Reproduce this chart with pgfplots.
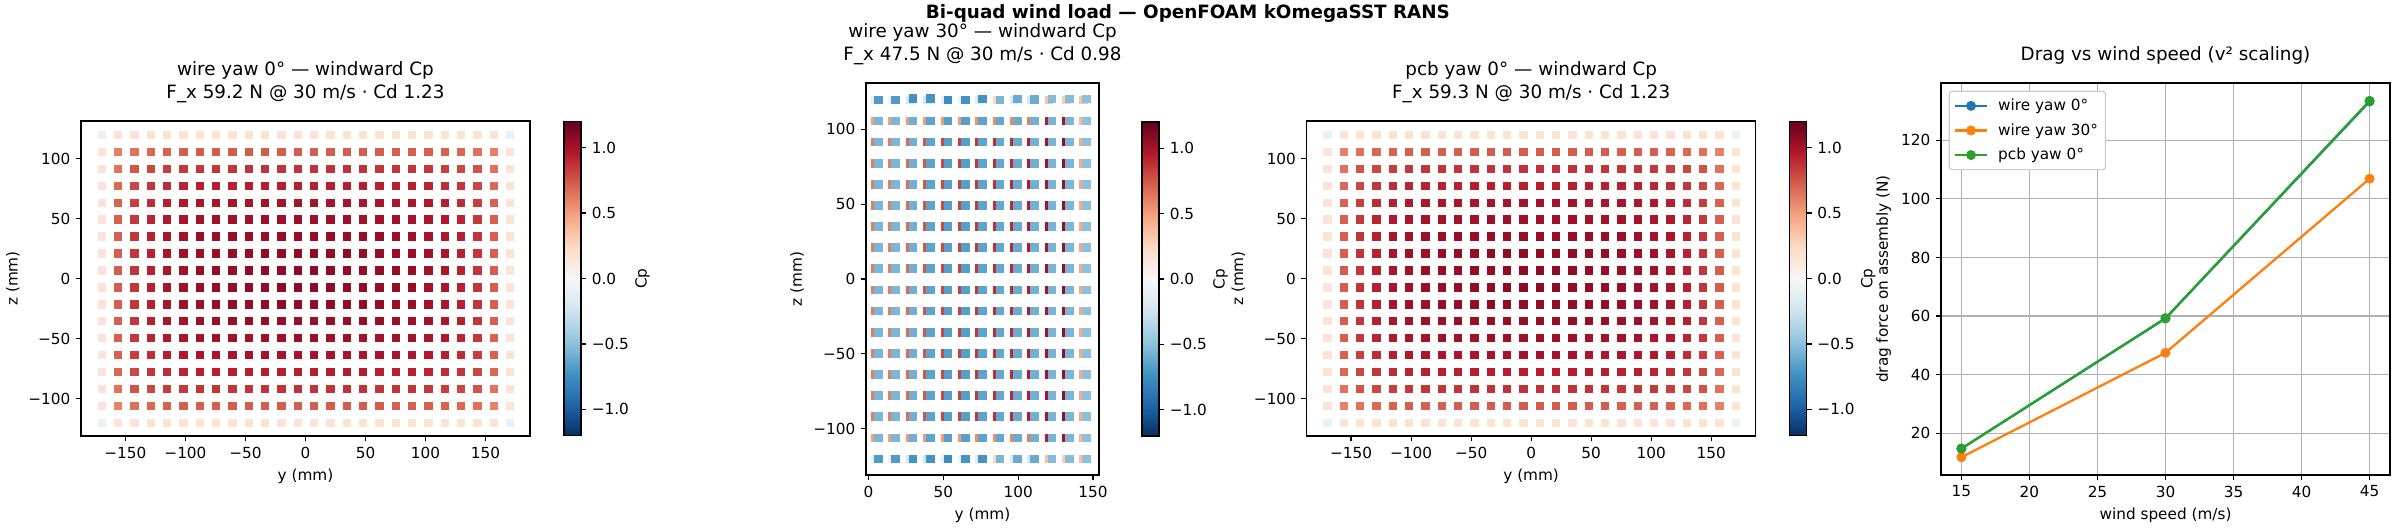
\documentclass[border=0pt]{standalone}
\usepackage{fontspec}
\setmainfont{DejaVu Sans}
\usepackage{pgfplots}
\usepackage{pgfplotstable}
\pgfplotsset{compat=1.18}
\definecolor{c0}{HTML}{1F77B4}
\definecolor{c1}{HTML}{FF7F0E}
\definecolor{c2}{HTML}{2CA02C}
\definecolor{gridc}{HTML}{B0B0B0}
\pgfplotsset{
  colormap={RdBuR}{rgb255=(5,48,97) rgb255=(33,102,172) rgb255=(67,147,195) rgb255=(146,197,222) rgb255=(209,229,240) rgb255=(247,247,247) rgb255=(253,219,199) rgb255=(244,165,130) rgb255=(214,96,77) rgb255=(178,24,43) rgb255=(103,0,31)},
  every axis/.append style={
    scale only axis,
    axis line style={line width=0.8pt},
    tick align=outside,
    major tick length=3.5pt,
    every tick/.append style={line width=0.8pt, black},
    tick label style={font=\fontsize{10}{12}\selectfont},
    label style={font=\fontsize{10}{12}\selectfont},
    title style={font=\fontsize{12}{14.6}\selectfont, align=center, at={(axis description cs:0.5,1)}, anchor=south, yshift=6pt, inner sep=0pt},
    /pgf/number format/assume math mode=true,
  },
  cpbar/.style={
    colorbar,
    colorbar style={
      at={(parent axis.east)}, anchor=west, xshift=#1,
      width=11.13pt, height=205.5pt,
      ytick={-1,-0.5,0,0.5,1},
      yticklabels={−1.0,−0.5,0.0,0.5,1.0},
      ytick pos=right, yticklabel pos=right,
      ylabel={Cp},
      ylabel style={at={(axis description cs:4.62,0.5)}, anchor=center},
    },
  },
  heat/.style={
    colormap name=RdBuR,
    point meta min=-1.2, point meta max=1.2,
    tick pos=left,
  },
  sq/.style={
    scatter, only marks, mark=square*, mark size=#1,
    scatter src=explicit,
    scatter/use mapped color={draw=mapped color, fill=mapped color},
    mark options={line width=0.1pt},
  },
}
% panel 1 / 3 grid: y (mm), z (mm), Cp
\pgfplotstableread[row sep=\\]{
x z c\\
-170 -120 -0.08\\-156.4 -120 0.17\\-142.8 -120 0.17\\-129.2 -120 0.17\\-115.6 -120 0.17\\-102 -120 0.17\\-88.4 -120 0.17\\-74.8 -120 0.17\\-61.2 -120 0.17\\-47.6 -120 0.17\\-34 -120 0.17\\-20.4 -120 0.17\\-6.8 -120 0.17\\6.8 -120 0.17\\20.4 -120 0.17\\34 -120 0.17\\47.6 -120 0.17\\61.2 -120 0.17\\74.8 -120 0.17\\88.4 -120 0.17\\102 -120 0.17\\115.6 -120 0.17\\129.2 -120 0.17\\142.8 -120 0.17\\156.4 -120 0.17\\170 -120 -0.08\\
-170 -105.9 0.17\\-156.4 -105.9 0.60\\-142.8 -105.9 0.66\\-129.2 -105.9 0.69\\-115.6 -105.9 0.71\\-102 -105.9 0.72\\-88.4 -105.9 0.72\\-74.8 -105.9 0.72\\-61.2 -105.9 0.73\\-47.6 -105.9 0.73\\-34 -105.9 0.73\\-20.4 -105.9 0.73\\-6.8 -105.9 0.73\\6.8 -105.9 0.73\\20.4 -105.9 0.73\\34 -105.9 0.73\\47.6 -105.9 0.73\\61.2 -105.9 0.73\\74.8 -105.9 0.72\\88.4 -105.9 0.72\\102 -105.9 0.72\\115.6 -105.9 0.71\\129.2 -105.9 0.69\\142.8 -105.9 0.66\\156.4 -105.9 0.60\\170 -105.9 0.17\\
-170 -91.8 0.17\\-156.4 -91.8 0.66\\-142.8 -91.8 0.76\\-129.2 -91.8 0.80\\-115.6 -91.8 0.83\\-102 -91.8 0.85\\-88.4 -91.8 0.86\\-74.8 -91.8 0.86\\-61.2 -91.8 0.86\\-47.6 -91.8 0.87\\-34 -91.8 0.87\\-20.4 -91.8 0.87\\-6.8 -91.8 0.87\\6.8 -91.8 0.87\\20.4 -91.8 0.87\\34 -91.8 0.87\\47.6 -91.8 0.87\\61.2 -91.8 0.86\\74.8 -91.8 0.86\\88.4 -91.8 0.86\\102 -91.8 0.85\\115.6 -91.8 0.83\\129.2 -91.8 0.80\\142.8 -91.8 0.76\\156.4 -91.8 0.66\\170 -91.8 0.17\\
-170 -77.6 0.17\\-156.4 -77.6 0.69\\-142.8 -77.6 0.80\\-129.2 -77.6 0.86\\-115.6 -77.6 0.89\\-102 -77.6 0.92\\-88.4 -77.6 0.93\\-74.8 -77.6 0.93\\-61.2 -77.6 0.93\\-47.6 -77.6 0.94\\-34 -77.6 0.94\\-20.4 -77.6 0.94\\-6.8 -77.6 0.94\\6.8 -77.6 0.94\\20.4 -77.6 0.94\\34 -77.6 0.94\\47.6 -77.6 0.94\\61.2 -77.6 0.93\\74.8 -77.6 0.93\\88.4 -77.6 0.93\\102 -77.6 0.92\\115.6 -77.6 0.89\\129.2 -77.6 0.86\\142.8 -77.6 0.80\\156.4 -77.6 0.69\\170 -77.6 0.17\\
-170 -63.5 0.17\\-156.4 -63.5 0.71\\-142.8 -63.5 0.83\\-129.2 -63.5 0.89\\-115.6 -63.5 0.94\\-102 -63.5 0.96\\-88.4 -63.5 0.98\\-74.8 -63.5 0.99\\-61.2 -63.5 0.99\\-47.6 -63.5 0.99\\-34 -63.5 1.00\\-20.4 -63.5 1.00\\-6.8 -63.5 1.00\\6.8 -63.5 1.00\\20.4 -63.5 1.00\\34 -63.5 1.00\\47.6 -63.5 0.99\\61.2 -63.5 0.99\\74.8 -63.5 0.99\\88.4 -63.5 0.98\\102 -63.5 0.96\\115.6 -63.5 0.94\\129.2 -63.5 0.89\\142.8 -63.5 0.83\\156.4 -63.5 0.71\\170 -63.5 0.17\\
-170 -49.4 0.17\\-156.4 -49.4 0.72\\-142.8 -49.4 0.85\\-129.2 -49.4 0.92\\-115.6 -49.4 0.96\\-102 -49.4 0.99\\-88.4 -49.4 1.01\\-74.8 -49.4 1.02\\-61.2 -49.4 1.02\\-47.6 -49.4 1.02\\-34 -49.4 1.03\\-20.4 -49.4 1.03\\-6.8 -49.4 1.03\\6.8 -49.4 1.03\\20.4 -49.4 1.03\\34 -49.4 1.03\\47.6 -49.4 1.02\\61.2 -49.4 1.02\\74.8 -49.4 1.02\\88.4 -49.4 1.01\\102 -49.4 0.99\\115.6 -49.4 0.96\\129.2 -49.4 0.92\\142.8 -49.4 0.85\\156.4 -49.4 0.72\\170 -49.4 0.17\\
-170 -35.3 0.17\\-156.4 -35.3 0.72\\-142.8 -35.3 0.86\\-129.2 -35.3 0.93\\-115.6 -35.3 0.98\\-102 -35.3 1.01\\-88.4 -35.3 1.03\\-74.8 -35.3 1.04\\-61.2 -35.3 1.05\\-47.6 -35.3 1.05\\-34 -35.3 1.05\\-20.4 -35.3 1.05\\-6.8 -35.3 1.05\\6.8 -35.3 1.05\\20.4 -35.3 1.05\\34 -35.3 1.05\\47.6 -35.3 1.05\\61.2 -35.3 1.05\\74.8 -35.3 1.04\\88.4 -35.3 1.03\\102 -35.3 1.01\\115.6 -35.3 0.98\\129.2 -35.3 0.93\\142.8 -35.3 0.86\\156.4 -35.3 0.72\\170 -35.3 0.17\\
-170 -21.2 0.17\\-156.4 -21.2 0.72\\-142.8 -21.2 0.86\\-129.2 -21.2 0.93\\-115.6 -21.2 0.99\\-102 -21.2 1.02\\-88.4 -21.2 1.04\\-74.8 -21.2 1.05\\-61.2 -21.2 1.06\\-47.6 -21.2 1.06\\-34 -21.2 1.07\\-20.4 -21.2 1.07\\-6.8 -21.2 1.07\\6.8 -21.2 1.07\\20.4 -21.2 1.07\\34 -21.2 1.07\\47.6 -21.2 1.06\\61.2 -21.2 1.06\\74.8 -21.2 1.05\\88.4 -21.2 1.04\\102 -21.2 1.02\\115.6 -21.2 0.99\\129.2 -21.2 0.93\\142.8 -21.2 0.86\\156.4 -21.2 0.72\\170 -21.2 0.17\\
-170 -7.1 0.17\\-156.4 -7.1 0.73\\-142.8 -7.1 0.86\\-129.2 -7.1 0.93\\-115.6 -7.1 0.99\\-102 -7.1 1.02\\-88.4 -7.1 1.05\\-74.8 -7.1 1.06\\-61.2 -7.1 1.06\\-47.6 -7.1 1.07\\-34 -7.1 1.07\\-20.4 -7.1 1.08\\-6.8 -7.1 1.08\\6.8 -7.1 1.08\\20.4 -7.1 1.08\\34 -7.1 1.07\\47.6 -7.1 1.07\\61.2 -7.1 1.06\\74.8 -7.1 1.06\\88.4 -7.1 1.05\\102 -7.1 1.02\\115.6 -7.1 0.99\\129.2 -7.1 0.93\\142.8 -7.1 0.86\\156.4 -7.1 0.73\\170 -7.1 0.17\\
-170 7.1 0.17\\-156.4 7.1 0.73\\-142.8 7.1 0.86\\-129.2 7.1 0.93\\-115.6 7.1 0.99\\-102 7.1 1.02\\-88.4 7.1 1.05\\-74.8 7.1 1.06\\-61.2 7.1 1.06\\-47.6 7.1 1.07\\-34 7.1 1.07\\-20.4 7.1 1.08\\-6.8 7.1 1.08\\6.8 7.1 1.08\\20.4 7.1 1.08\\34 7.1 1.07\\47.6 7.1 1.07\\61.2 7.1 1.06\\74.8 7.1 1.06\\88.4 7.1 1.05\\102 7.1 1.02\\115.6 7.1 0.99\\129.2 7.1 0.93\\142.8 7.1 0.86\\156.4 7.1 0.73\\170 7.1 0.17\\
-170 21.2 0.17\\-156.4 21.2 0.72\\-142.8 21.2 0.86\\-129.2 21.2 0.93\\-115.6 21.2 0.99\\-102 21.2 1.02\\-88.4 21.2 1.04\\-74.8 21.2 1.05\\-61.2 21.2 1.06\\-47.6 21.2 1.06\\-34 21.2 1.07\\-20.4 21.2 1.07\\-6.8 21.2 1.07\\6.8 21.2 1.07\\20.4 21.2 1.07\\34 21.2 1.07\\47.6 21.2 1.06\\61.2 21.2 1.06\\74.8 21.2 1.05\\88.4 21.2 1.04\\102 21.2 1.02\\115.6 21.2 0.99\\129.2 21.2 0.93\\142.8 21.2 0.86\\156.4 21.2 0.72\\170 21.2 0.17\\
-170 35.3 0.17\\-156.4 35.3 0.72\\-142.8 35.3 0.86\\-129.2 35.3 0.93\\-115.6 35.3 0.98\\-102 35.3 1.01\\-88.4 35.3 1.03\\-74.8 35.3 1.04\\-61.2 35.3 1.05\\-47.6 35.3 1.05\\-34 35.3 1.05\\-20.4 35.3 1.05\\-6.8 35.3 1.05\\6.8 35.3 1.05\\20.4 35.3 1.05\\34 35.3 1.05\\47.6 35.3 1.05\\61.2 35.3 1.05\\74.8 35.3 1.04\\88.4 35.3 1.03\\102 35.3 1.01\\115.6 35.3 0.98\\129.2 35.3 0.93\\142.8 35.3 0.86\\156.4 35.3 0.72\\170 35.3 0.17\\
-170 49.4 0.17\\-156.4 49.4 0.72\\-142.8 49.4 0.85\\-129.2 49.4 0.92\\-115.6 49.4 0.96\\-102 49.4 0.99\\-88.4 49.4 1.01\\-74.8 49.4 1.02\\-61.2 49.4 1.02\\-47.6 49.4 1.02\\-34 49.4 1.03\\-20.4 49.4 1.03\\-6.8 49.4 1.03\\6.8 49.4 1.03\\20.4 49.4 1.03\\34 49.4 1.03\\47.6 49.4 1.02\\61.2 49.4 1.02\\74.8 49.4 1.02\\88.4 49.4 1.01\\102 49.4 0.99\\115.6 49.4 0.96\\129.2 49.4 0.92\\142.8 49.4 0.85\\156.4 49.4 0.72\\170 49.4 0.17\\
-170 63.5 0.17\\-156.4 63.5 0.71\\-142.8 63.5 0.83\\-129.2 63.5 0.89\\-115.6 63.5 0.94\\-102 63.5 0.96\\-88.4 63.5 0.98\\-74.8 63.5 0.99\\-61.2 63.5 0.99\\-47.6 63.5 0.99\\-34 63.5 1.00\\-20.4 63.5 1.00\\-6.8 63.5 1.00\\6.8 63.5 1.00\\20.4 63.5 1.00\\34 63.5 1.00\\47.6 63.5 0.99\\61.2 63.5 0.99\\74.8 63.5 0.99\\88.4 63.5 0.98\\102 63.5 0.96\\115.6 63.5 0.94\\129.2 63.5 0.89\\142.8 63.5 0.83\\156.4 63.5 0.71\\170 63.5 0.17\\
-170 77.6 0.17\\-156.4 77.6 0.69\\-142.8 77.6 0.80\\-129.2 77.6 0.86\\-115.6 77.6 0.89\\-102 77.6 0.92\\-88.4 77.6 0.93\\-74.8 77.6 0.93\\-61.2 77.6 0.93\\-47.6 77.6 0.94\\-34 77.6 0.94\\-20.4 77.6 0.94\\-6.8 77.6 0.94\\6.8 77.6 0.94\\20.4 77.6 0.94\\34 77.6 0.94\\47.6 77.6 0.94\\61.2 77.6 0.93\\74.8 77.6 0.93\\88.4 77.6 0.93\\102 77.6 0.92\\115.6 77.6 0.89\\129.2 77.6 0.86\\142.8 77.6 0.80\\156.4 77.6 0.69\\170 77.6 0.17\\
-170 91.8 0.17\\-156.4 91.8 0.66\\-142.8 91.8 0.76\\-129.2 91.8 0.80\\-115.6 91.8 0.83\\-102 91.8 0.85\\-88.4 91.8 0.86\\-74.8 91.8 0.86\\-61.2 91.8 0.86\\-47.6 91.8 0.87\\-34 91.8 0.87\\-20.4 91.8 0.87\\-6.8 91.8 0.87\\6.8 91.8 0.87\\20.4 91.8 0.87\\34 91.8 0.87\\47.6 91.8 0.87\\61.2 91.8 0.86\\74.8 91.8 0.86\\88.4 91.8 0.86\\102 91.8 0.85\\115.6 91.8 0.83\\129.2 91.8 0.80\\142.8 91.8 0.76\\156.4 91.8 0.66\\170 91.8 0.17\\
-170 105.9 0.17\\-156.4 105.9 0.60\\-142.8 105.9 0.66\\-129.2 105.9 0.69\\-115.6 105.9 0.71\\-102 105.9 0.72\\-88.4 105.9 0.72\\-74.8 105.9 0.72\\-61.2 105.9 0.73\\-47.6 105.9 0.73\\-34 105.9 0.73\\-20.4 105.9 0.73\\-6.8 105.9 0.73\\6.8 105.9 0.73\\20.4 105.9 0.73\\34 105.9 0.73\\47.6 105.9 0.73\\61.2 105.9 0.73\\74.8 105.9 0.72\\88.4 105.9 0.72\\102 105.9 0.72\\115.6 105.9 0.71\\129.2 105.9 0.69\\142.8 105.9 0.66\\156.4 105.9 0.60\\170 105.9 0.17\\
-170 120 -0.08\\-156.4 120 0.17\\-142.8 120 0.17\\-129.2 120 0.17\\-115.6 120 0.17\\-102 120 0.17\\-88.4 120 0.17\\-74.8 120 0.17\\-61.2 120 0.17\\-47.6 120 0.17\\-34 120 0.17\\-20.4 120 0.17\\-6.8 120 0.17\\6.8 120 0.17\\20.4 120 0.17\\34 120 0.17\\47.6 120 0.17\\61.2 120 0.17\\74.8 120 0.17\\88.4 120 0.17\\102 120 0.17\\115.6 120 0.17\\129.2 120 0.17\\142.8 120 0.17\\156.4 120 0.17\\170 120 -0.08\\
}\gridA
% panel 2, rear (red) layer
\pgfplotstableread[row sep=\\]{
x z c\\
4.3 -120 -0.10\\15.9 -120 -0.05\\27.5 -120 -0.20\\39.1 -120 -0.25\\50.7 -120 -0.10\\62.3 -120 -0.05\\73.9 -120 -0.15\\85.5 -120 0.25\\97.1 -120 -0.15\\108.7 -120 -0.20\\120.3 -120 0.35\\131.9 -120 0.30\\143.5 -120 0.35\\
4.3 -105.9 0.50\\15.9 -105.9 0.50\\27.5 -105.9 0.52\\39.1 -105.9 0.52\\50.7 -105.9 0.52\\62.3 -105.9 0.52\\73.9 -105.9 0.55\\85.5 -105.9 0.55\\97.1 -105.9 0.58\\108.7 -105.9 0.62\\120.3 -105.9 0.95\\131.9 -105.9 1.00\\143.5 -105.9 0.40\\
4.3 -91.8 0.62\\15.9 -91.8 0.62\\27.5 -91.8 0.68\\39.1 -91.8 0.75\\50.7 -91.8 0.80\\62.3 -91.8 0.82\\73.9 -91.8 0.85\\85.5 -91.8 0.88\\97.1 -91.8 0.90\\108.7 -91.8 0.95\\120.3 -91.8 1.00\\131.9 -91.8 1.05\\143.5 -91.8 0.45\\
4.3 -77.6 0.62\\15.9 -77.6 0.62\\27.5 -77.6 0.68\\39.1 -77.6 0.75\\50.7 -77.6 0.80\\62.3 -77.6 0.82\\73.9 -77.6 0.85\\85.5 -77.6 0.88\\97.1 -77.6 0.90\\108.7 -77.6 0.95\\120.3 -77.6 1.00\\131.9 -77.6 1.05\\143.5 -77.6 0.45\\
4.3 -63.5 0.62\\15.9 -63.5 0.62\\27.5 -63.5 0.68\\39.1 -63.5 0.75\\50.7 -63.5 0.80\\62.3 -63.5 0.82\\73.9 -63.5 0.85\\85.5 -63.5 0.88\\97.1 -63.5 0.90\\108.7 -63.5 0.95\\120.3 -63.5 1.00\\131.9 -63.5 1.05\\143.5 -63.5 0.45\\
4.3 -49.4 0.62\\15.9 -49.4 0.62\\27.5 -49.4 0.68\\39.1 -49.4 0.75\\50.7 -49.4 0.80\\62.3 -49.4 0.82\\73.9 -49.4 0.85\\85.5 -49.4 0.88\\97.1 -49.4 0.90\\108.7 -49.4 0.95\\120.3 -49.4 1.00\\131.9 -49.4 1.05\\143.5 -49.4 0.45\\
4.3 -35.3 0.62\\15.9 -35.3 0.62\\27.5 -35.3 0.68\\39.1 -35.3 0.75\\50.7 -35.3 0.80\\62.3 -35.3 0.82\\73.9 -35.3 0.85\\85.5 -35.3 0.88\\97.1 -35.3 0.90\\108.7 -35.3 0.95\\120.3 -35.3 1.00\\131.9 -35.3 1.05\\143.5 -35.3 0.45\\
4.3 -21.2 0.62\\15.9 -21.2 0.62\\27.5 -21.2 0.68\\39.1 -21.2 0.75\\50.7 -21.2 0.80\\62.3 -21.2 0.82\\73.9 -21.2 0.85\\85.5 -21.2 0.88\\97.1 -21.2 0.90\\108.7 -21.2 0.95\\120.3 -21.2 1.00\\131.9 -21.2 1.05\\143.5 -21.2 0.45\\
4.3 -7.1 0.62\\15.9 -7.1 0.62\\27.5 -7.1 0.68\\39.1 -7.1 0.75\\50.7 -7.1 0.80\\62.3 -7.1 0.82\\73.9 -7.1 0.85\\85.5 -7.1 0.88\\97.1 -7.1 0.90\\108.7 -7.1 0.95\\120.3 -7.1 1.00\\131.9 -7.1 1.05\\143.5 -7.1 0.45\\
4.3 7.1 0.62\\15.9 7.1 0.62\\27.5 7.1 0.68\\39.1 7.1 0.75\\50.7 7.1 0.80\\62.3 7.1 0.82\\73.9 7.1 0.85\\85.5 7.1 0.88\\97.1 7.1 0.90\\108.7 7.1 0.95\\120.3 7.1 1.00\\131.9 7.1 1.05\\143.5 7.1 0.45\\
4.3 21.2 0.62\\15.9 21.2 0.62\\27.5 21.2 0.68\\39.1 21.2 0.75\\50.7 21.2 0.80\\62.3 21.2 0.82\\73.9 21.2 0.85\\85.5 21.2 0.88\\97.1 21.2 0.90\\108.7 21.2 0.95\\120.3 21.2 1.00\\131.9 21.2 1.05\\143.5 21.2 0.45\\
4.3 35.3 0.62\\15.9 35.3 0.62\\27.5 35.3 0.68\\39.1 35.3 0.75\\50.7 35.3 0.80\\62.3 35.3 0.82\\73.9 35.3 0.85\\85.5 35.3 0.88\\97.1 35.3 0.90\\108.7 35.3 0.95\\120.3 35.3 1.00\\131.9 35.3 1.05\\143.5 35.3 0.45\\
4.3 49.4 0.62\\15.9 49.4 0.62\\27.5 49.4 0.68\\39.1 49.4 0.75\\50.7 49.4 0.80\\62.3 49.4 0.82\\73.9 49.4 0.85\\85.5 49.4 0.88\\97.1 49.4 0.90\\108.7 49.4 0.95\\120.3 49.4 1.00\\131.9 49.4 1.05\\143.5 49.4 0.45\\
4.3 63.5 0.62\\15.9 63.5 0.62\\27.5 63.5 0.68\\39.1 63.5 0.75\\50.7 63.5 0.80\\62.3 63.5 0.82\\73.9 63.5 0.85\\85.5 63.5 0.88\\97.1 63.5 0.90\\108.7 63.5 0.95\\120.3 63.5 1.00\\131.9 63.5 1.05\\143.5 63.5 0.45\\
4.3 77.6 0.62\\15.9 77.6 0.62\\27.5 77.6 0.68\\39.1 77.6 0.75\\50.7 77.6 0.80\\62.3 77.6 0.82\\73.9 77.6 0.85\\85.5 77.6 0.88\\97.1 77.6 0.90\\108.7 77.6 0.95\\120.3 77.6 1.00\\131.9 77.6 1.05\\143.5 77.6 0.45\\
4.3 91.8 0.62\\15.9 91.8 0.62\\27.5 91.8 0.68\\39.1 91.8 0.75\\50.7 91.8 0.80\\62.3 91.8 0.82\\73.9 91.8 0.85\\85.5 91.8 0.88\\97.1 91.8 0.90\\108.7 91.8 0.95\\120.3 91.8 1.00\\131.9 91.8 1.05\\143.5 91.8 0.45\\
4.3 105.9 0.50\\15.9 105.9 0.50\\27.5 105.9 0.52\\39.1 105.9 0.52\\50.7 105.9 0.52\\62.3 105.9 0.52\\73.9 105.9 0.55\\85.5 105.9 0.55\\97.1 105.9 0.58\\108.7 105.9 0.62\\120.3 105.9 0.95\\131.9 105.9 1.00\\143.5 105.9 0.40\\
4.3 120 -0.10\\15.9 120 -0.05\\27.5 120 -0.20\\39.1 120 -0.25\\50.7 120 -0.10\\62.3 120 -0.05\\73.9 120 -0.15\\85.5 120 0.25\\97.1 120 -0.15\\108.7 120 -0.20\\120.3 120 0.35\\131.9 120 0.30\\143.5 120 0.35\\
}\gridBred
% panel 2, front (blue) layer
\pgfplotstableread[row sep=\\]{
x z c\\
6.3 -120 -0.68\\17.9 -120 -0.68\\29.5 -120 -0.72\\41.1 -120 -0.72\\52.7 -120 -0.75\\64.3 -120 -0.72\\75.9 -120 -0.72\\87.5 -120 -0.55\\99.1 -120 -0.60\\110.7 -120 -0.60\\122.3 -120 -0.52\\133.9 -120 -0.52\\145.5 -120 -0.50\\
6.3 -105.9 -0.55\\17.9 -105.9 -0.55\\29.5 -105.9 -0.58\\41.1 -105.9 -0.64\\52.7 -105.9 -0.66\\64.3 -105.9 -0.66\\75.9 -105.9 -0.64\\87.5 -105.9 -0.62\\99.1 -105.9 -0.60\\110.7 -105.9 -0.58\\122.3 -105.9 -0.56\\133.9 -105.9 -0.55\\145.5 -105.9 -0.50\\
6.3 -91.8 -0.55\\17.9 -91.8 -0.55\\29.5 -91.8 -0.58\\41.1 -91.8 -0.64\\52.7 -91.8 -0.66\\64.3 -91.8 -0.66\\75.9 -91.8 -0.64\\87.5 -91.8 -0.62\\99.1 -91.8 -0.60\\110.7 -91.8 -0.58\\122.3 -91.8 -0.56\\133.9 -91.8 -0.55\\145.5 -91.8 -0.50\\
6.3 -77.6 -0.55\\17.9 -77.6 -0.55\\29.5 -77.6 -0.58\\41.1 -77.6 -0.64\\52.7 -77.6 -0.66\\64.3 -77.6 -0.66\\75.9 -77.6 -0.64\\87.5 -77.6 -0.62\\99.1 -77.6 -0.60\\110.7 -77.6 -0.58\\122.3 -77.6 -0.56\\133.9 -77.6 -0.55\\145.5 -77.6 -0.50\\
6.3 -63.5 -0.55\\17.9 -63.5 -0.55\\29.5 -63.5 -0.58\\41.1 -63.5 -0.64\\52.7 -63.5 -0.66\\64.3 -63.5 -0.66\\75.9 -63.5 -0.64\\87.5 -63.5 -0.62\\99.1 -63.5 -0.60\\110.7 -63.5 -0.58\\122.3 -63.5 -0.56\\133.9 -63.5 -0.55\\145.5 -63.5 -0.50\\
6.3 -49.4 -0.55\\17.9 -49.4 -0.55\\29.5 -49.4 -0.58\\41.1 -49.4 -0.64\\52.7 -49.4 -0.66\\64.3 -49.4 -0.66\\75.9 -49.4 -0.64\\87.5 -49.4 -0.62\\99.1 -49.4 -0.60\\110.7 -49.4 -0.58\\122.3 -49.4 -0.56\\133.9 -49.4 -0.55\\145.5 -49.4 -0.50\\
6.3 -35.3 -0.55\\17.9 -35.3 -0.55\\29.5 -35.3 -0.58\\41.1 -35.3 -0.64\\52.7 -35.3 -0.66\\64.3 -35.3 -0.66\\75.9 -35.3 -0.64\\87.5 -35.3 -0.62\\99.1 -35.3 -0.60\\110.7 -35.3 -0.58\\122.3 -35.3 -0.56\\133.9 -35.3 -0.55\\145.5 -35.3 -0.50\\
6.3 -21.2 -0.55\\17.9 -21.2 -0.55\\29.5 -21.2 -0.58\\41.1 -21.2 -0.64\\52.7 -21.2 -0.66\\64.3 -21.2 -0.66\\75.9 -21.2 -0.64\\87.5 -21.2 -0.62\\99.1 -21.2 -0.60\\110.7 -21.2 -0.58\\122.3 -21.2 -0.56\\133.9 -21.2 -0.55\\145.5 -21.2 -0.50\\
6.3 -7.1 -0.55\\17.9 -7.1 -0.55\\29.5 -7.1 -0.58\\41.1 -7.1 -0.64\\52.7 -7.1 -0.66\\64.3 -7.1 -0.66\\75.9 -7.1 -0.64\\87.5 -7.1 -0.62\\99.1 -7.1 -0.60\\110.7 -7.1 -0.58\\122.3 -7.1 -0.56\\133.9 -7.1 -0.55\\145.5 -7.1 -0.50\\
6.3 7.1 -0.55\\17.9 7.1 -0.55\\29.5 7.1 -0.58\\41.1 7.1 -0.64\\52.7 7.1 -0.66\\64.3 7.1 -0.66\\75.9 7.1 -0.64\\87.5 7.1 -0.62\\99.1 7.1 -0.60\\110.7 7.1 -0.58\\122.3 7.1 -0.56\\133.9 7.1 -0.55\\145.5 7.1 -0.50\\
6.3 21.2 -0.55\\17.9 21.2 -0.55\\29.5 21.2 -0.58\\41.1 21.2 -0.64\\52.7 21.2 -0.66\\64.3 21.2 -0.66\\75.9 21.2 -0.64\\87.5 21.2 -0.62\\99.1 21.2 -0.60\\110.7 21.2 -0.58\\122.3 21.2 -0.56\\133.9 21.2 -0.55\\145.5 21.2 -0.50\\
6.3 35.3 -0.55\\17.9 35.3 -0.55\\29.5 35.3 -0.58\\41.1 35.3 -0.64\\52.7 35.3 -0.66\\64.3 35.3 -0.66\\75.9 35.3 -0.64\\87.5 35.3 -0.62\\99.1 35.3 -0.60\\110.7 35.3 -0.58\\122.3 35.3 -0.56\\133.9 35.3 -0.55\\145.5 35.3 -0.50\\
6.3 49.4 -0.55\\17.9 49.4 -0.55\\29.5 49.4 -0.58\\41.1 49.4 -0.64\\52.7 49.4 -0.66\\64.3 49.4 -0.66\\75.9 49.4 -0.64\\87.5 49.4 -0.62\\99.1 49.4 -0.60\\110.7 49.4 -0.58\\122.3 49.4 -0.56\\133.9 49.4 -0.55\\145.5 49.4 -0.50\\
6.3 63.5 -0.55\\17.9 63.5 -0.55\\29.5 63.5 -0.58\\41.1 63.5 -0.64\\52.7 63.5 -0.66\\64.3 63.5 -0.66\\75.9 63.5 -0.64\\87.5 63.5 -0.62\\99.1 63.5 -0.60\\110.7 63.5 -0.58\\122.3 63.5 -0.56\\133.9 63.5 -0.55\\145.5 63.5 -0.50\\
6.3 77.6 -0.55\\17.9 77.6 -0.55\\29.5 77.6 -0.58\\41.1 77.6 -0.64\\52.7 77.6 -0.66\\64.3 77.6 -0.66\\75.9 77.6 -0.64\\87.5 77.6 -0.62\\99.1 77.6 -0.60\\110.7 77.6 -0.58\\122.3 77.6 -0.56\\133.9 77.6 -0.55\\145.5 77.6 -0.50\\
6.3 91.8 -0.55\\17.9 91.8 -0.55\\29.5 91.8 -0.58\\41.1 91.8 -0.64\\52.7 91.8 -0.66\\64.3 91.8 -0.66\\75.9 91.8 -0.64\\87.5 91.8 -0.62\\99.1 91.8 -0.60\\110.7 91.8 -0.58\\122.3 91.8 -0.56\\133.9 91.8 -0.55\\145.5 91.8 -0.50\\
6.3 105.9 -0.55\\17.9 105.9 -0.55\\29.5 105.9 -0.58\\41.1 105.9 -0.64\\52.7 105.9 -0.66\\64.3 105.9 -0.66\\75.9 105.9 -0.64\\87.5 105.9 -0.62\\99.1 105.9 -0.60\\110.7 105.9 -0.58\\122.3 105.9 -0.56\\133.9 105.9 -0.55\\145.5 105.9 -0.50\\
6.3 120 -0.68\\17.9 120 -0.68\\29.5 120.8 -0.72\\41.1 120.8 -0.72\\52.7 120 -0.75\\64.3 120 -0.72\\75.9 120.6 -0.72\\87.5 120 -0.55\\99.1 120.6 -0.60\\110.7 120.4 -0.60\\122.3 120.6 -0.52\\133.9 120.6 -0.52\\145.5 120.6 -0.50\\
}\gridBblue
\begin{document}
\begin{tikzpicture}
\useasboundingbox (0,0) rectangle (1565.56pt,346.23pt);
% ---------- panel 1 ----------
\begin{axis}[heat, cpbar=13.74pt,
  at={(53.01pt,60.87pt)}, anchor=south west,
  width=293.87pt, height=206.17pt,
  xmin=-187, xmax=187, ymin=-131.2, ymax=131.2,
  xtick={-150,-100,-50,0,50,100,150},
  xticklabels={−150,−100,−50,0,50,100,150},
  ytick={-100,-50,0,50,100},
  yticklabels={−100,−50,0,50,100},
  title={wire yaw 0° — windward Cp\\F\_x 59.2 N @ 30 m/s · Cd 1.23},
  xlabel={y (mm)}, ylabel={z (mm)},
  xlabel style={at={(axis description cs:0.5,-0.129)}, anchor=center},
  ylabel style={at={(axis description cs:-0.152,0.5)}, anchor=center},
]
\addplot[sq=2.4pt] table[x=x, y=z, meta=c] {\gridA};
\end{axis}
% ---------- panel 2 ----------
\begin{axis}[heat, cpbar=19.64pt,
  at={(566.80pt,35.34pt)}, anchor=south west,
  width=152.50pt, height=256.56pt,
  xmin=-1.7, xmax=154, ymin=-131, ymax=131,
  xtick={0,50,100,150},
  xticklabels={0,50,100,150},
  ytick={-100,-50,0,50,100},
  yticklabels={−100,−50,0,50,100},
  title={wire yaw 30° — windward Cp\\F\_x 47.5 N @ 30 m/s · Cd 0.98},
  xlabel={y (mm)}, ylabel={z (mm)},
  xlabel style={at={(axis description cs:0.5,-0.102)}, anchor=center},
  ylabel style={at={(axis description cs:-0.296,0.5)}, anchor=center},
]
\addplot[sq=2.5pt] table[x=x, y=z, meta=c] {\gridBred};
\addplot[sq=2.5pt] table[x=x, y=z, meta=c] {\gridBblue};
\end{axis}
% ---------- panel 3 ----------
\begin{axis}[heat, cpbar=13.74pt,
  at={(855.2pt,60.87pt)}, anchor=south west,
  width=293.87pt, height=206.17pt,
  xmin=-187, xmax=187, ymin=-131.2, ymax=131.2,
  xtick={-150,-100,-50,0,50,100,150},
  xticklabels={−150,−100,−50,0,50,100,150},
  ytick={-100,-50,0,50,100},
  yticklabels={−100,−50,0,50,100},
  title={pcb yaw 0° — windward Cp\\F\_x 59.3 N @ 30 m/s · Cd 1.23},
  xlabel={y (mm)}, ylabel={z (mm)},
  xlabel style={at={(axis description cs:0.5,-0.129)}, anchor=center},
  ylabel style={at={(axis description cs:-0.152,0.5)}, anchor=center},
]
\addplot[sq=2.4pt] table[x=x, y=z, meta=c] {\gridA};
\end{axis}
% ---------- panel 4 ----------
\begin{axis}[
  at={(1270.38pt,35.34pt)}, anchor=south west,
  width=293.87pt, height=256.56pt,
  xmin=13.5, xmax=46.5, ymin=5.8, ymax=139.5,
  tick pos=left,
  xtick={15,20,25,30,35,40,45},
  ytick={20,40,60,80,100,120},
  grid=major,
  grid style={line width=0.8pt, gridc},
  title={Drag vs wind speed (v² scaling)},
  xlabel={wind speed (m/s)}, ylabel={drag force on assembly (N)},
  xlabel style={at={(axis description cs:0.5,-0.102)}, anchor=center},
  ylabel style={at={(axis description cs:-0.128,0.5)}, anchor=center},
  legend style={at={(axis description cs:0,1)}, anchor=north west, xshift=5pt, yshift=-5pt,
    draw=black!20, line width=0.8pt, fill=white, rounded corners=2pt,
    font=\fontsize{10}{12}\selectfont, inner xsep=3pt, inner ysep=3pt, row sep=3pt,
    /tikz/every odd column/.append style={column sep=4.5pt}},
  legend cell align=left,
  legend image code/.code={\draw[mark repeat=2,mark phase=2] plot coordinates {(0pt,0pt) (10.5pt,0pt) (21pt,0pt)};},
]
\addplot[c0, line width=1.5pt, mark=*, mark size=3pt, mark options={solid, line width=0.5pt}] coordinates {(15,14.8) (30,59.2) (45,133.2)};
\addlegendentry{wire yaw 0°}
\addplot[c1, line width=1.5pt, mark=*, mark size=3pt, mark options={solid, line width=0.5pt}] coordinates {(15,11.875) (30,47.5) (45,106.875)};
\addlegendentry{wire yaw 30°}
\addplot[c2, line width=1.5pt, mark=*, mark size=3pt, mark options={solid, line width=0.5pt}] coordinates {(15,14.825) (30,59.3) (45,133.425)};
\addlegendentry{pcb yaw 0°}
\end{axis}
\node[font=\bfseries\fontsize{12}{14}\selectfont, anchor=center] at (777.5pt,337.5pt) {Bi-quad wind load — OpenFOAM kOmegaSST RANS};
\end{tikzpicture}
\end{document}
